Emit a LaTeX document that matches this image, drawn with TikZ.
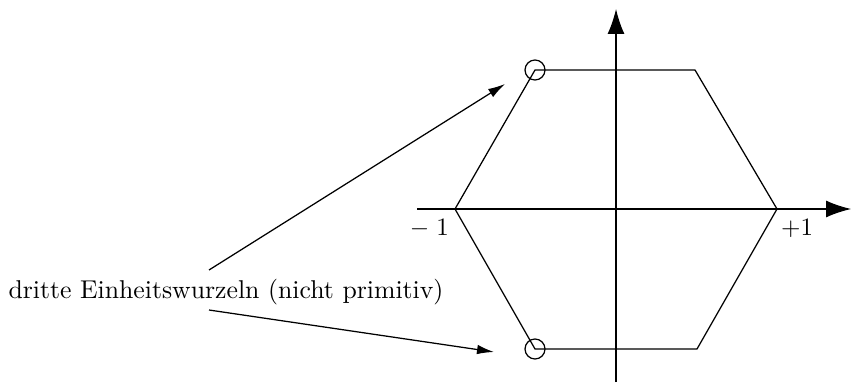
\documentclass[tikz,border=0pt]{standalone}
\usetikzlibrary{arrows.meta}
\begin{document}
\begin{tikzpicture}[x=0.4pt,y=-0.4pt,line width=0.5pt,
  bigarrow/.style={-{Latex[length=10pt,width=6.8pt]}},
  smallarrow/.style={-{Latex[length=6.8pt,width=3.8pt]}},
  marker/.style={circle,draw,minimum size=8pt,inner sep=0pt},
  every node/.style={font=\fontsize{10.3}{12.4}\selectfont}]
\useasboundingbox (0,0) rectangle (851,385);
% axes
\coordinate (xs) at (417,209);
\coordinate (xe) at (851,209);
\coordinate (ys) at (616,382);
\coordinate (ye) at (616,9);
\draw[bigarrow] (xs) -- (xe);
\draw[bigarrow] (ys) -- (ye);
% hexagon
\coordinate (L) at (455,209);
\coordinate (R) at (777,209);
\coordinate (TL) at (535,70);
\coordinate (TR) at (695,70);
\coordinate (BL) at (535,349);
\coordinate (BR) at (697,349);
\draw (L) -- (TL) -- (TR) -- (R) -- (BR) -- (BL) -- cycle;
\node[marker] (c1) at (TL) {};
\node[marker] (c2) at (BL) {};
% labels
\node[anchor=north east,inner sep=1pt] (lm) at (452,216) {$-\;1$};
\node[anchor=north west,inner sep=1pt] (lp) at (778,216) {$+1$};
\node (txt) at (226,292) {dritte Einheitswurzeln (nicht primitiv)};
\coordinate (a1s) at (209,270);
\coordinate (a1e) at (505,84);
\coordinate (a2s) at (209,310);
\coordinate (a2e) at (494,352);
\draw[smallarrow] (a1s) -- (a1e);
\draw[smallarrow] (a2s) -- (a2e);
\end{tikzpicture}
\end{document}
